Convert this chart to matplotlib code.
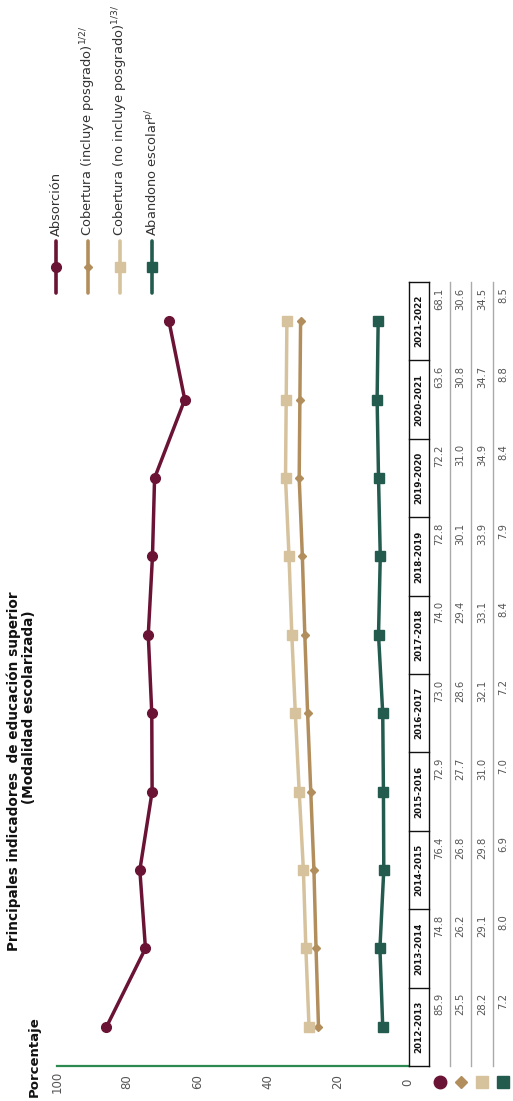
import matplotlib.pyplot as plt
import numpy as np

plt.rcParams['font.family'] = ['DejaVu Sans']

# Data
ciclos = ["2012-2013", "2013-2014", "2014-2015", "2015-2016", "2016-2017",
          "2017-2018", "2018-2019", "2019-2020", "2020-2021", "2021-2022"]
absorcion = [85.9, 74.8, 76.4, 72.9, 73.0, 74.0, 72.8, 72.2, 63.6, 68.1]
cob_con_posgrado = [25.5, 26.2, 26.8, 27.7, 28.6, 29.4, 30.1, 31.0, 30.8, 30.6]
cob_sin_posgrado = [28.2, 29.1, 29.8, 31.0, 32.1, 33.1, 33.9, 34.9, 34.7, 34.5]
abandono = [7.2, 8.0, 6.9, 7.0, 7.2, 8.4, 7.9, 8.4, 8.8, 8.5]

nombres = ["Absorción",
           r"Cobertura (incluye posgrado)$^{\mathregular{1/2/}}$",
           r"Cobertura (no incluye posgrado)$^{\mathregular{1/3/}}$",
           r"Abandono escolar$^{\mathregular{p/}}$"]
colores = ["#6a1335", "#b38e5d", "#d6c29c", "#235b4e"]
marcadores = ["o", "D", "s", "s"]
tam_marcador = [7, 4.5, 6.5, 6.5]
series = [absorcion, cob_con_posgrado, cob_sin_posgrado, abandono]
ticks = [0, 20, 40, 60, 80, 100]

W, H = 513, 1101


def box(x0, y0, x1, y1):
    # pixel box (top-left origin) -> figure fraction
    return [x0 / W, 1 - y1 / H, (x1 - x0) / W, (y1 - y0) / H]


fig = plt.figure(figsize=(W / 100, H / 100), dpi=100)

# chart is drawn rotated: value axis runs right-to-left, cycles bottom-to-top
ax = fig.add_axes(box(57, 282, 408, 1066))
idx = np.arange(len(ciclos))
for vals, c, m, ms in zip(series, colores, marcadores, tam_marcador):
    ax.plot(vals, idx, color=c, lw=2.5, marker=m, ms=ms,
            solid_capstyle="round", solid_joinstyle="round")
ax.set_xlim(100, 0)
ax.set_ylim(-0.5, len(ciclos) - 0.5)
ax.set_xticks(ticks)
ax.set_yticks([])
ax.tick_params(axis="x", length=0, pad=11.5, labelsize=8.5,
               labelcolor="#555555", labelrotation=90)
for lbl in ax.get_xticklabels():
    lbl.set_va("center")
for s in ["top", "left", "right"]:
    ax.spines[s].set_visible(False)
ax.spines["bottom"].set_color("#2c8a50")
ax.spines["bottom"].set_linewidth(1.6)

# table (rotated)
tab = fig.add_axes(box(409, 282, 513, 1066))
tab.set_xlim(0, 104)
tab.set_ylim(-0.5, len(ciclos) - 0.5)
tab.axis("off")
bordes = [0, 20, 41, 62, 84, 104]
for xe in bordes[2:-1]:
    tab.plot([xe, xe], [-0.5, len(ciclos) - 0.5], color="#aaaaaa", lw=1.0,
             clip_on=False)
for xe in bordes[:2]:
    tab.plot([xe, xe], [-0.5, len(ciclos) - 0.5], color="#111111", lw=1.0,
             clip_on=False)
for yb in np.arange(-0.5, len(ciclos), 1.0):
    tab.plot([0, 20], [yb, yb], color="#111111", lw=1.0, clip_on=False)

for i, ciclo in enumerate(ciclos):
    tab.text((bordes[0] + bordes[1]) / 2, i, ciclo, rotation=90,
             ha="center", va="center", fontsize=6.3, weight="bold",
             color="#111111")
    for j, vals in enumerate(series):
        xc = (bordes[j + 1] + bordes[j + 2]) / 2
        tab.text(xc, i + 0.43, f"{vals[i]:.1f}", rotation=90,
                 rotation_mode="anchor", ha="right", va="center",
                 fontsize=7.2, color="#555555")

for j in range(len(series)):
    xc = (bordes[j + 1] + bordes[j + 2]) / 2
    tab.plot([xc], [-0.71], marker=marcadores[j], color=colores[j],
             ms=tam_marcador[j] + 2, clip_on=False, lw=0)

# legend (rotated)
lax = fig.add_axes(box(40, 150, 170, 300))
lax.set_xlim(40, 170)
lax.set_ylim(300, 150)
lax.axis("off")
for j, nombre in enumerate(nombres):
    x = 56 + 32 * j
    lax.plot([x, x], [241, 293], color=colores[j], lw=2.6,
             solid_capstyle="round")
    lax.plot([x], [267], marker=marcadores[j], color=colores[j],
             ms=tam_marcador[j])
    lax.text(x, 236, nombre, rotation=90, rotation_mode="anchor",
             ha="left", va="center", fontsize=9.4, color="#333333")

# titles
fig.text(14 / W, 1 - 771 / H, "Principales indicadores  de educación superior",
         rotation=90, ha="center", va="center", fontsize=9.8, weight="bold",
         color="#111111")
fig.text(29 / W, 1 - 707 / H, "(Modalidad escolarizada)",
         rotation=90, ha="center", va="center", fontsize=9.8, weight="bold",
         color="#111111")
fig.text(34 / W, 1 - 1057 / H, "Porcentaje", rotation=90, ha="center",
         va="center", fontsize=9.5, weight="bold", color="#111111")

fig.savefig("out.png", dpi=100)
